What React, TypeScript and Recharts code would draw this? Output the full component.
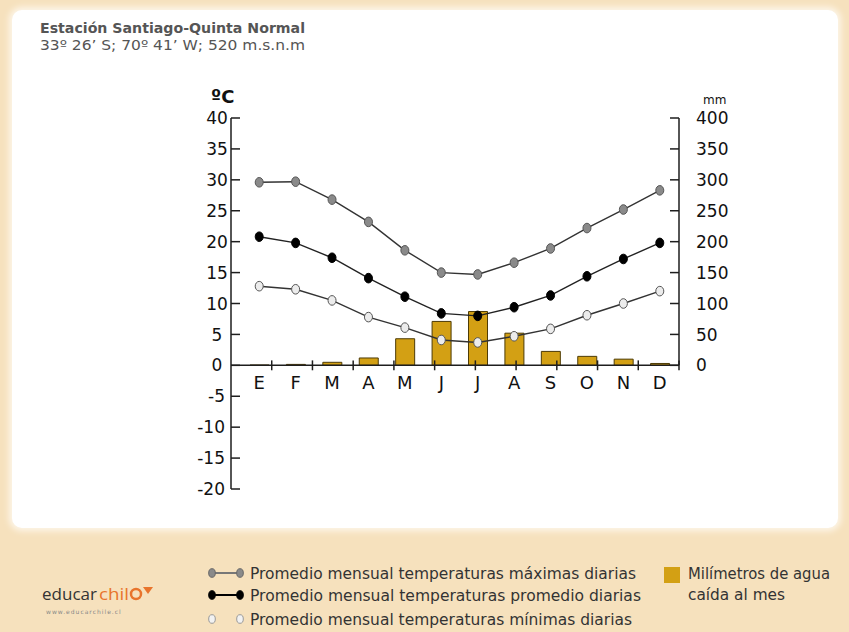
import React from "react";
import { Bar, ComposedChart, Line, ReferenceLine, XAxis, YAxis } from "recharts";

const meses = ["E", "F", "M", "A", "M", "J", "J", "A", "S", "O", "N", "D"];
const tempMax = [29.6, 29.7, 26.8, 23.2, 18.6, 15.0, 14.7, 16.6, 18.9, 22.2, 25.2, 28.3];
const tempMedia = [20.8, 19.8, 17.4, 14.1, 11.1, 8.4, 8.0, 9.4, 11.3, 14.4, 17.2, 19.8];
const tempMin = [12.8, 12.3, 10.5, 7.8, 6.1, 4.1, 3.7, 4.7, 5.9, 8.1, 10.0, 12.0];
const lluviaMm = [0.5, 1.5, 4.9, 11.9, 43, 71, 87, 52, 22.5, 14.5, 10, 3];

const ticksTemp = [-20, -15, -10, -5, 0, 5, 10, 15, 20, 25, 30, 35, 40];
const ticksMm = [0, 50, 100, 150, 200, 250, 300, 350, 400];
const limitesMes = [1, 2, 3, 4, 5, 6, 7, 8, 9, 10, 11];

const data = meses.map((mes, i) => ({
  id: i,
  mes,
  max: tempMax[i],
  media: tempMedia[i],
  min: tempMin[i],
  lluvia: lluviaMm[i],
}));

// layout
const W = 849;
const H = 520;
const X_AXIS_H = 30;
const M = { top: 118, right: 120, bottom: 31 - X_AXIS_H, left: 181 };
const AXIS_W = 50;
const PLOT_H = H - M.top - 31;
const ZERO_Y = M.top + PLOT_H * (40 / 60);
const MM_LEN = PLOT_H * (400 / 600);

const INK = "#1e1e1e";
const FONT = "'DejaVu Sans', Verdana, sans-serif";
const GOLD = "#d3a014";
const BEIGE = "#f6e1bd";

function TickTemp({ x, y, payload }: any) {
  const v = payload.value;
  return (
    <g>
      <line x1={x} x2={x + 9} y1={y} y2={y} stroke={INK} strokeWidth={1.5} />
      <text
        x={v < 0 ? x - 6 : x - 14}
        y={y}
        dy="0.36em"
        textAnchor={v < 0 ? "end" : "middle"}
        fontSize={17}
        fontFamily={FONT}
        fill="#111"
      >
        {v}
      </text>
    </g>
  );
}

function TickMm({ x, y, payload }: any) {
  return (
    <g>
      <line x1={x - 9} x2={x} y1={y} y2={y} stroke={INK} strokeWidth={1.5} />
      <text x={x + 17} y={y} dy="0.36em" textAnchor="start" fontSize={17} fontFamily={FONT} fill="#111">
        {payload.value}
      </text>
    </g>
  );
}

function TickMes({ x, payload }: any) {
  return (
    <text x={x} y={ZERO_Y + 17} dy="0.36em" textAnchor="middle" fontSize={18} fontFamily={FONT} fill="#111">
      {meses[payload.value]}
    </text>
  );
}

const makeDot = (fill: string, stroke: string) => (props: any) => {
  const { cx, cy, index } = props;
  if (cx == null || cy == null) return <g key={index} />;
  return <ellipse key={index} cx={cx} cy={cy} rx={4} ry={4.8} fill={fill} stroke={stroke} strokeWidth={1} />;
};

function LegendIcon({ x, y, fill, stroke, line }: any) {
  return (
    <g>
      {line && <line x1={x + 5} x2={x + 33} y1={y} y2={y} stroke={line} strokeWidth={2} />}
      <ellipse cx={x + 5} cy={y} rx={3.3} ry={4.3} fill={fill} stroke={stroke} />
      <ellipse cx={x + 33} cy={y} rx={3.3} ry={4.3} fill={fill} stroke={stroke} />
    </g>
  );
}

const legendRows = [
  { text: "Promedio mensual temperaturas máximas diarias", len: 386, fill: "#8a8a8a", stroke: "#666", line: "#777", y: 573 },
  { text: "Promedio mensual temperaturas promedio diarias", len: 391, fill: "#000", stroke: "#000", line: "#000", y: 595 },
  { text: "Promedio mensual temperaturas mínimas diarias", len: 382, fill: "#f2f2f2", stroke: "#999", line: null, y: 619 },
];

export default function App() {
  return (
    <div style={{ position: "absolute", left: 0, top: 0, width: W, height: 632, background: BEIGE, overflow: "hidden" }}>
      <div
        style={{
          position: "absolute",
          left: 12,
          top: 10,
          width: 826,
          height: 518,
          background: "#fff",
          borderRadius: 10,
          boxShadow: "0 0 6px 3px #fdf6ea",
        }}
      />

      <div style={{ position: "absolute", left: 0, top: 0 }}>
        <ComposedChart width={W} height={H} data={data} margin={M}>
          <XAxis
            xAxisId="m"
            dataKey="id"
            type="category"
            padding={{ left: 10, right: 1 }}
            axisLine={false}
            tickLine={false}
            height={X_AXIS_H}
            interval={0}
            tick={<TickMes />}
          />
          <XAxis xAxisId="g" type="number" domain={[0, 12]} hide height={0} />
          <YAxis
            yAxisId="t"
            orientation="left"
            width={AXIS_W}
            domain={[-20, 40]}
            ticks={ticksTemp}
            interval={0}
            tickSize={0}
            tickMargin={0}
            tickLine={false}
            axisLine={{ stroke: INK, strokeWidth: 1.5 }}
            tick={<TickTemp />}
          />
          <YAxis
            yAxisId="mm"
            orientation="right"
            width={AXIS_W}
            domain={[-200, 400]}
            ticks={ticksMm}
            interval={0}
            tickSize={0}
            tickMargin={0}
            tickLine={false}
            axisLine={{ stroke: INK, strokeWidth: 1.5, strokeDasharray: `${MM_LEN} 1000` }}
            tick={<TickMm />}
          />

          <Bar
            xAxisId="m"
            yAxisId="mm"
            dataKey="lluvia"
            barSize={19}
            fill={GOLD}
            stroke="#4d3b06"
            strokeWidth={1}
            isAnimationActive={false}
          />

          <ReferenceLine xAxisId="g" yAxisId="t" y={0} stroke={INK} strokeWidth={1.5} />
          {limitesMes.map((k) => (
            <ReferenceLine
              key={k}
              xAxisId="g"
              yAxisId="t"
              segment={[
                { x: k, y: -0.8 },
                { x: k, y: 0.8 },
              ]}
              stroke={INK}
              strokeWidth={1.5}
            />
          ))}

          <Line
            xAxisId="m"
            yAxisId="t"
            type="linear"
            dataKey="max"
            stroke="#333"
            strokeWidth={1.4}
            dot={makeDot("#8a8a8a", "#555")}
            activeDot={false}
            isAnimationActive={false}
          />
          <Line
            xAxisId="m"
            yAxisId="t"
            type="linear"
            dataKey="media"
            stroke="#222"
            strokeWidth={1.4}
            dot={makeDot("#000", "#000")}
            activeDot={false}
            isAnimationActive={false}
          />
          <Line
            xAxisId="m"
            yAxisId="t"
            type="linear"
            dataKey="min"
            stroke="#333"
            strokeWidth={1.4}
            dot={makeDot("#ececec", "#555")}
            activeDot={false}
            isAnimationActive={false}
          />
        </ComposedChart>
      </div>

      {/* titles, units, legend and logo */}
      <svg width={W} height={632} style={{ position: "absolute", left: 0, top: 0, pointerEvents: "none" }}>
        <text x={40} y={33} fontFamily={FONT} fontSize={14} fontWeight="bold" fill="#555" textLength={265} lengthAdjust="spacingAndGlyphs">
          Estación Santiago-Quinta Normal
        </text>
        <text x={40} y={50} fontFamily={FONT} fontSize={14} fill="#555" textLength={265} lengthAdjust="spacingAndGlyphs">
          33º 26’ S; 70º 41’ W; 520 m.s.n.m
        </text>

        <text x={211} y={103} fontFamily={FONT} fontSize={18} fontWeight="bold" fill="#111">
          ºC
        </text>
        <text x={703} y={104} fontFamily={FONT} fontSize={12} fill="#111">
          mm
        </text>

        {legendRows.map((r) => (
          <g key={r.text}>
            <LegendIcon x={207} y={r.y} fill={r.fill} stroke={r.stroke} line={r.line} />
            <text x={250} y={r.y + 6} fontFamily={FONT} fontSize={16.5} fill="#333" textLength={r.len} lengthAdjust="spacingAndGlyphs">
              {r.text}
            </text>
          </g>
        ))}
        <rect x={664} y={567} width={16} height={16} fill={GOLD} />
        <text x={688} y={579} fontFamily={FONT} fontSize={15} fill="#333" textLength={142} lengthAdjust="spacingAndGlyphs">
          Milímetros de agua
        </text>
        <text x={688} y={600} fontFamily={FONT} fontSize={15} fill="#333" textLength={97} lengthAdjust="spacingAndGlyphs">
          caída al mes
        </text>

        <text x={42} y={600} fontFamily="'Open Sans', sans-serif" fontSize={17} fill="#333" textLength={55} lengthAdjust="spacingAndGlyphs">
          educar
        </text>
        <text x={99} y={600} fontFamily="'Open Sans', sans-serif" fontSize={17} fill="#e8742c" textLength={30} lengthAdjust="spacingAndGlyphs">
          chil
        </text>
        <circle cx={136} cy={594} r={5} fill="none" stroke="#e8742c" strokeWidth={2.5} />
        <path d="M143 587 L153 587 L148 594 Z" fill="#e8742c" />
        <text x={46} y={614} fontFamily={FONT} fontSize={6} letterSpacing={1} fill="#888">
          www.educarchile.cl
        </text>
      </svg>
    </div>
  );
}
